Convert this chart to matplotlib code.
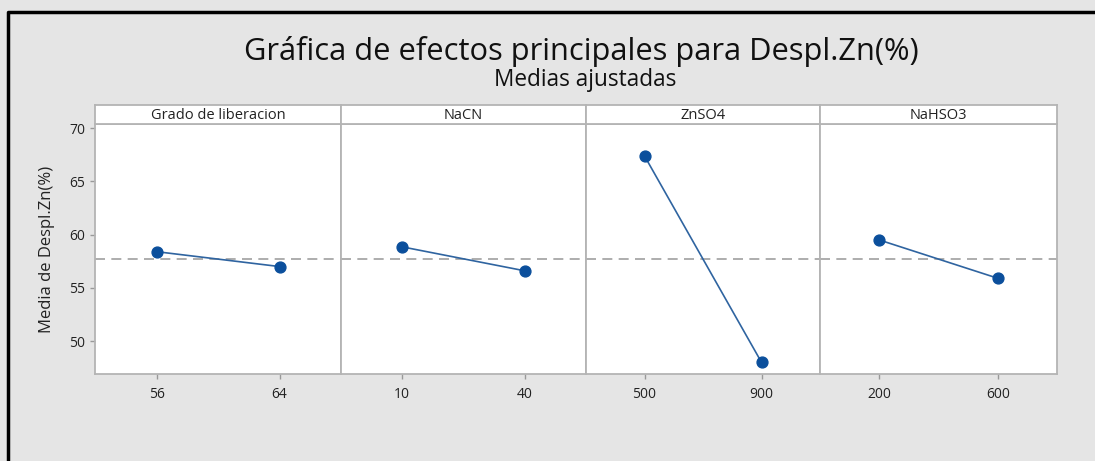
import matplotlib
matplotlib.use('Agg')
import matplotlib.pyplot as plt
from matplotlib.lines import Line2D

plt.rcParams['font.family'] = ['Open Sans', 'DejaVu Sans']

# datos
factores = ['Grado de liberacion', 'NaCN', 'ZnSO4', 'NaHSO3']
niveles = [[56, 64], [10, 40], [500, 900], [200, 600]]
medias = [[58.4, 57.0], [58.85, 56.6], [67.4, 48.0], [59.5, 55.9]]
media_global = 57.7
yticks = [50, 55, 60, 65, 70]

bg = '#e5e5e5'
borde = '#b4b4b4'
azul = '#0b4f9c'

W, H = 1095, 461
fig = plt.figure(figsize=(W / 100, H / 100), dpi=100, facecolor=bg)

# bordes de los paneles en pixeles
bordes_x = [95, 341, 586, 820, 1057]
ybot, ytop, ystrip = 374, 124, 105

for i, f in enumerate(factores):
    left = bordes_x[i] / W
    pw = (bordes_x[i + 1] - bordes_x[i]) / W
    ax = fig.add_axes([left, 1 - ybot / H, pw, (ybot - ytop) / H])
    sx = fig.add_axes([left, 1 - ytop / H, pw, (ytop - ystrip) / H])

    lo, hi = niveles[i]
    d = (hi - lo) / 2
    ax.set_xlim(lo - d, hi + d)
    ax.set_ylim(46.9, 70.4)
    ax.axhline(media_global, color='#a0a0a0', lw=1.2, ls=(0, (6, 3.8)), zorder=1)
    ax.plot(niveles[i], medias[i], color='#2f64a0', lw=1.2, marker='o', ms=7.8,
            mfc=azul, mec=azul, zorder=3)

    ax.set_xticks(niveles[i])
    ax.set_xticklabels([str(v) for v in niveles[i]])
    for s in ax.spines.values():
        s.set_color(borde)
        s.set_linewidth(1.3)
    ax.tick_params(axis='both', colors='#999999', labelcolor='#222222',
                   labelsize=10, length=3.5, width=1)
    ax.tick_params(axis='x', pad=6)
    if i == 0:
        ax.set_yticks(yticks)
        ax.set_ylabel('Media de Despl.Zn(%)', fontsize=12, color='#222222', labelpad=10)
    else:
        ax.set_yticks([])

    sx.set_xticks([])
    sx.set_yticks([])
    for s in sx.spines.values():
        s.set_color(borde)
        s.set_linewidth(1.3)
    sx.text(0.5, 0.45, f, ha='center', va='center', fontsize=10.5, color='#222222',
            transform=sx.transAxes)

fig.text(581 / W, 1 - 60 / H, 'Gráfica de efectos principales para Despl.Zn(%)',
         ha='center', va='baseline', fontsize=22.2, color='#111111')
fig.text(585 / W, 1 - 86 / H, 'Medias ajustadas', ha='center', va='baseline',
         fontsize=16.3, color='#111111')

# marco negro (arriba e izquierda)
fig.add_artist(Line2D([8 / W, 8 / W, 1], [0, 1 - 12 / H, 1 - 12 / H],
                      color='black', lw=2.5, transform=fig.transFigure))

fig.savefig('out.png', dpi=100, facecolor=bg)
